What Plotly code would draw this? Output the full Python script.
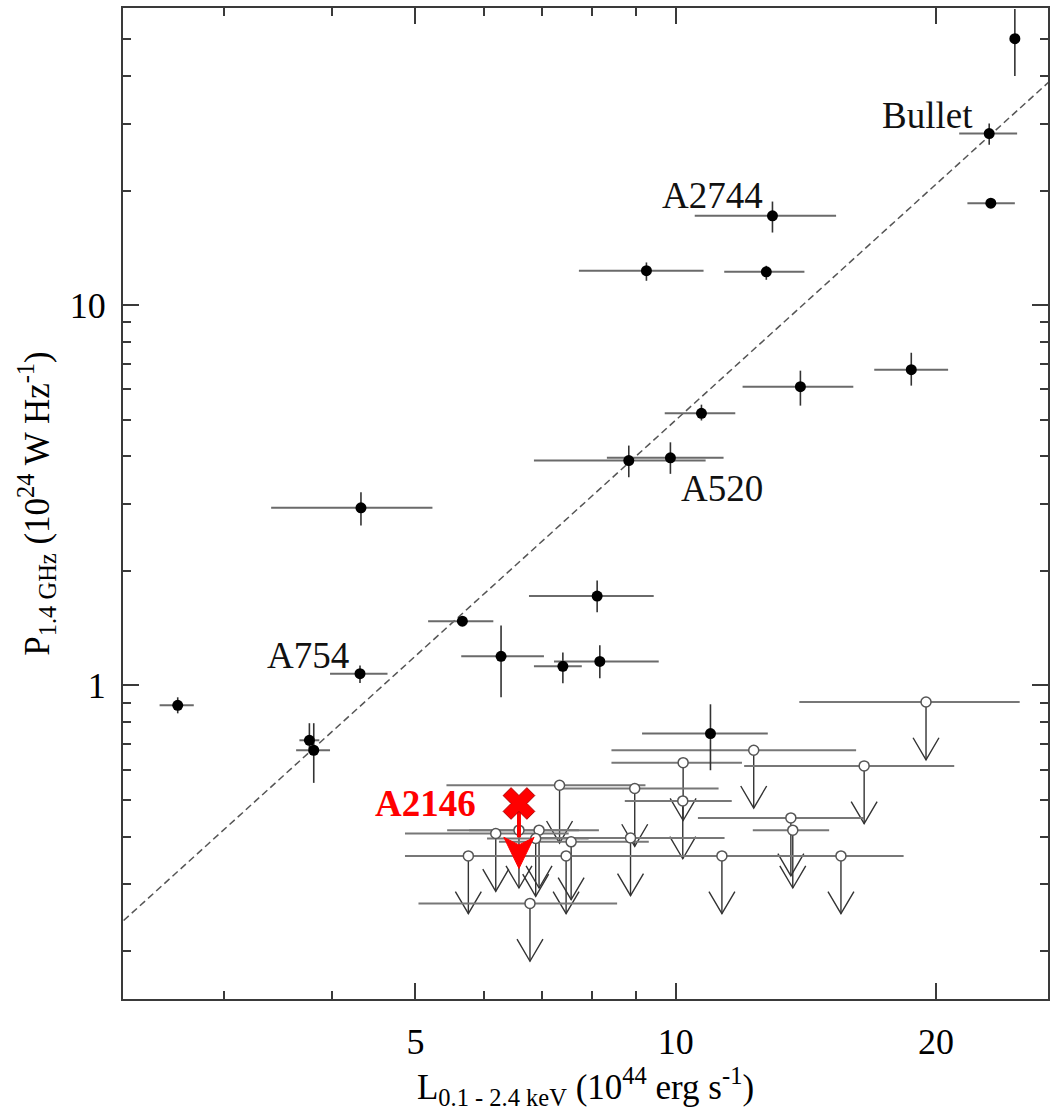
import plotly.graph_objects as go

# ---- Radio halo detections -------------------------------------------------
# X-ray luminosity L_0.1-2.4keV [1e44 erg/s] with lower/upper bounds
det_L = [2.654, 3.769, 3.813, 4.313, 4.324, 5.665, 6.280, 7.404, 8.112, 8.170, 8.825,
         9.860, 10.71, 9.250, 12.73, 12.94, 13.94, 18.73, 23.05, 23.15, 24.68, 10.97]
det_L_lo = [2.529, 3.670, 3.638, 3.982, 3.404, 5.171, 5.648, 6.855, 6.765, 7.231, 6.855,
            8.325, 9.712, 7.727, 11.38, 10.52, 11.95, 16.97, 21.28, 21.75, 24.68, 9.143]
det_L_hi = [2.770, 3.870, 3.982, 4.641, 5.231, 6.152, 7.040, 7.787, 9.431, 9.558, 10.83,
            11.36, 11.72, 10.77, 14.09, 15.33, 16.05, 20.66, 24.83, 24.68, 24.68, 12.78]
# Radio power P_1.4GHz [1e24 W/Hz] with lower/upper bounds
det_P = [0.886, 0.717, 0.675, 1.073, 2.929, 1.475, 1.192, 1.122, 1.717, 1.156, 3.899,
         3.964, 5.192, 12.31, 12.23, 17.16, 6.101, 6.761, 28.23, 18.53, 50.14, 0.7465]
det_P_lo = [0.844, 0.663, 0.554, 1.014, 2.633, 1.44, 0.930, 1.012, 1.557, 1.043, 3.525,
            3.598, 4.97, 11.58, 11.65, 15.51, 5.438, 6.138, 26.37, 18.0, 40.03, 0.598]
det_P_hi = [0.930, 0.795, 0.795, 1.128, 3.220, 1.51, 1.437, 1.22, 1.887, 1.274, 4.270,
            4.355, 5.47, 12.94, 12.68, 18.71, 6.72, 7.49, 29.99, 19.1, 60.0, 0.8915]

# ---- Upper limits on halo power ---------------------------------------------
ul_L = [19.48, 12.31, 10.20, 16.52, 7.339, 8.966, 10.19, 13.59, 13.66, 8.866,
        6.192, 6.587, 6.949, 6.887, 7.569, 5.756, 7.468, 11.31, 15.53, 6.783]
ul_L_lo = [13.90, 8.427, 8.427, 12.00, 5.43, 7.326, 8.732, 10.61, 12.28, 6.949,
           4.862, 5.44, 5.768, 6.05, 6.245, 4.862, 6.245, 8.479, 12.78, 5.04]
ul_L_hi = [25.0, 16.17, 11.93, 21.0, 9.226, 11.21, 11.61, 16.52, 15.05, 11.39,
           7.52, 8.15, 7.727, 7.93, 9.308, 9.135, 9.063, 18.34, 18.34, 8.555]
ul_P = [0.904, 0.675, 0.626, 0.614, 0.546, 0.5354, 0.4966, 0.448, 0.416, 0.397,
        0.4078, 0.416, 0.416, 0.3957, 0.3877, 0.356, 0.356, 0.356, 0.356, 0.267]

# ---- A2146 upper limit --------------------------------------------------------
a2146_L = [6.587]
a2146_P = [0.489]

# ---- Best-fit correlation P = norm * (L/10)^slope ---------------------------
fit_norm = 4.98
fit_slope = 2.06
fit_L = [2.2, 28.0]

# ---- Labelled clusters (paper coordinates) --------------------------------
cluster_names = ["Bullet", "A2744", "A520", "A754"]
name_pos = [(0.870, 0.892), (0.6373, 0.8105), (0.6471, 0.5151), (0.1996, 0.3468)]

# Axis tick values
x_major = [5, 10, 20]
x_minor = [3, 4, 6, 7, 8, 9]
y_major = [1, 10]
y_minor = [0.2, 0.3, 0.4, 0.5, 0.6, 0.7, 0.8, 0.9,
           2, 3, 4, 5, 6, 7, 8, 9, 20, 30, 40, 50]

SERIF = "Liberation Serif, Times New Roman, serif"

# Arrow geometry in decades (log10 units)
ARROW_LEN = 0.152
HEAD_HALF_W = 0.015
HEAD_H = 0.058


def lg_shift(v, dex):
    return v * 10 ** dex


# Down arrows for the upper limits (shaft + open V head)
ax, ay = [], []
for L, P in zip(ul_L, ul_P):
    end = lg_shift(P, -ARROW_LEN)
    ax += [L, L, None]
    ay += [P, end, None]
    ax += [lg_shift(L, -HEAD_HALF_W), L, lg_shift(L, HEAD_HALF_W), None]
    ay += [lg_shift(end, HEAD_H), end, lg_shift(end, HEAD_H), None]

fig = go.Figure()

# Correlation line
fit_P = [fit_norm * (L / 10.0) ** fit_slope for L in fit_L]
fig.add_trace(go.Scatter(
    x=fit_L, y=fit_P, mode="lines",
    line=dict(color="#555555", width=1.5, dash="7px,4px"),
    hoverinfo="skip"))

# Upper-limit arrows
fig.add_trace(go.Scatter(
    x=ax, y=ay, mode="lines",
    line=dict(color="#333333", width=1.4),
    hoverinfo="skip"))

# Upper-limit open circles with luminosity error bars
fig.add_trace(go.Scatter(
    x=ul_L, y=ul_P, mode="markers",
    marker=dict(symbol="circle", size=10, color="white",
                line=dict(color="#555555", width=1.5)),
    error_x=dict(type="data", symmetric=False,
                 array=[h - v for h, v in zip(ul_L_hi, ul_L)],
                 arrayminus=[v - l for v, l in zip(ul_L, ul_L_lo)],
                 color="#777777", thickness=2, width=0),
    hoverinfo="skip"))

# Red arrow for A2146
rL, rP = a2146_L[0], a2146_P[0]
head_base = lg_shift(rP, -0.089)
head_tip = lg_shift(rP, -0.171)
notch = lg_shift(head_base, -0.02)
fig.add_trace(go.Scatter(
    x=[rL, rL], y=[rP, head_base], mode="lines",
    line=dict(color="#ff0000", width=4), hoverinfo="skip"))
fig.add_trace(go.Scatter(
    x=[lg_shift(rL, -0.0175), rL, lg_shift(rL, 0.0175), rL, lg_shift(rL, -0.0175)],
    y=[head_base, notch, head_base, head_tip, head_base],
    mode="lines", fill="toself", fillcolor="#ff0000",
    line=dict(color="#ff0000", width=1), hoverinfo="skip"))
fig.add_trace(go.Scatter(
    x=a2146_L, y=a2146_P, mode="markers",
    marker=dict(symbol="x", size=28, color="#ff0000",
                line=dict(color="#b00000", width=1)),
    hoverinfo="skip"))

# Detections: filled circles with error bars in both directions
fig.add_trace(go.Scatter(
    x=det_L, y=det_P, mode="markers",
    marker=dict(symbol="circle", size=11, color="black"),
    error_x=dict(type="data", symmetric=False,
                 array=[h - v for h, v in zip(det_L_hi, det_L)],
                 arrayminus=[v - l for v, l in zip(det_L, det_L_lo)],
                 color="#6a6a6a", thickness=2, width=0),
    error_y=dict(type="data", symmetric=False,
                 array=[h - v for h, v in zip(det_P_hi, det_P)],
                 arrayminus=[v - l for v, l in zip(det_P, det_P_lo)],
                 color="#333333", thickness=1.6, width=0),
    hoverinfo="skip"))

annotations = []
for name, (px, py) in zip(cluster_names, name_pos):
    annotations.append(dict(
        text=name, x=px, y=py, xref="paper", yref="paper",
        xanchor="center", yanchor="middle", showarrow=False,
        font=dict(family=SERIF, size=37, color="#111111")))
annotations.append(dict(
    text="<b>A2146</b>", x=0.3272, y=0.1976, xref="paper", yref="paper",
    xanchor="center", yanchor="middle", showarrow=False,
    font=dict(family=SERIF, size=37, color="#ff0000")))

axis_common = dict(
    type="log", showgrid=False, zeroline=False,
    showline=True, linecolor="#3a3a3a", linewidth=2, mirror="ticks",
    ticks="inside", ticklen=16, tickwidth=1.5, tickcolor="#3a3a3a",
    tickfont=dict(family=SERIF, size=36, color="black"),
    tickmode="array",
)

fig.update_layout(
    width=1056, height=1111,
    margin=dict(l=123, r=6, t=7, b=112),
    paper_bgcolor="white", plot_bgcolor="white",
    showlegend=False,
    annotations=annotations,
    xaxis=dict(
        **axis_common,
        range=[0.3606, 1.4307],
        tickvals=x_major, ticktext=[str(v) for v in x_major],
        minor=dict(tickmode="array", tickvals=x_minor, ticks="inside",
                   ticklen=8, tickwidth=1.5, tickcolor="#3a3a3a"),
        ticklabelstandoff=10,
        title=dict(text="L<sub>0.1 - 2.4 keV</sub> (10<sup>44</sup> erg s<sup>-1</sup>)",
                   font=dict(family=SERIF, size=35, color="black"), standoff=18),
    ),
    yaxis=dict(
        **axis_common,
        range=[-0.8248, 1.781],
        tickvals=y_major, ticktext=[str(v) for v in y_major],
        minor=dict(tickmode="array", tickvals=y_minor, ticks="inside",
                   ticklen=8, tickwidth=1.5, tickcolor="#3a3a3a"),
        ticklabelstandoff=8,
        title=dict(text="P<sub>1.4 GHz</sub> (10<sup>24</sup> W Hz<sup>-1</sup>)",
                   font=dict(family=SERIF, size=35, color="black"), standoff=10),
    ),
)

fig.write_html("out.html")
